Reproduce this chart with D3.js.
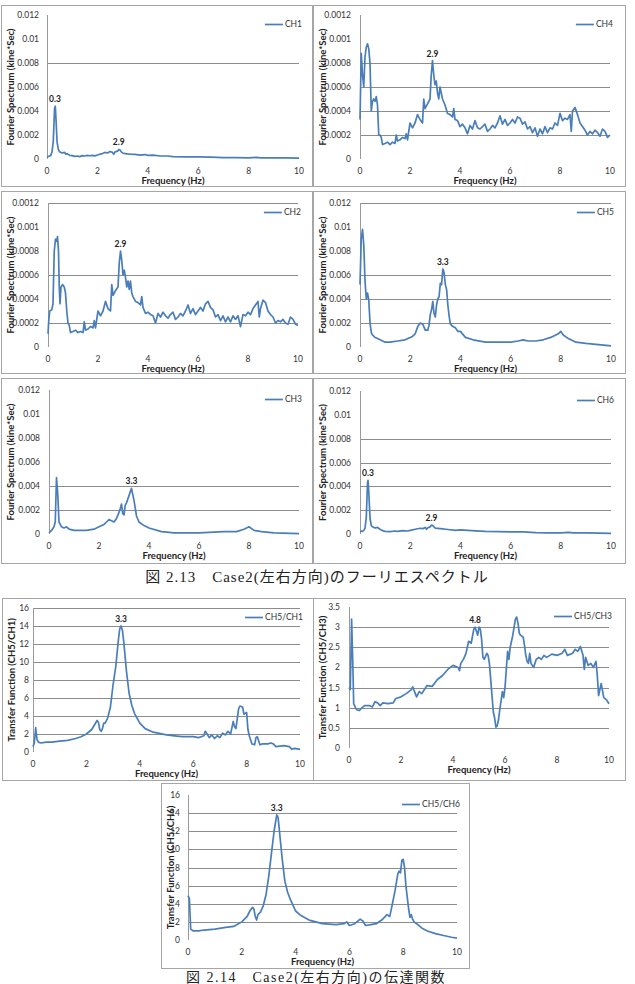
<!DOCTYPE html>
<html>
<head>
<meta charset="utf-8">
<script src="https://cdn.jsdelivr.net/npm/d3@7"></script>
<style>
body { margin: 0; background: #fff; }
svg text { font-family: Lato, "Open Sans", sans-serif; }
</style>
</head>
<body>
<svg id="fig" width="635" height="984"></svg>
<script>
// Fourier spectra, [frequency Hz, kine*sec]
const ch1 = [[0,0.00015],[0.05,0.0002],[0.1,0.00025],[0.15,0.0003],[0.2,0.0006],[0.25,0.0015],[0.3,0.0042],[0.33,0.0044],[0.36,0.0032],[0.4,0.0014],[0.45,0.0008],[0.5,0.0006],[0.6,0.0005],[0.7,0.00055],[0.75,0.0004],[0.8,0.00045],[0.9,0.0003],[1.0,0.00028],[1.1,0.00022],[1.2,0.00025],[1.3,0.0002],[1.4,0.00028],[1.5,0.00025],[1.6,0.0003],[1.7,0.00027],[1.8,0.0003],[1.9,0.00026],[2.0,0.00033],[2.1,0.0004],[2.2,0.00045],[2.3,0.00055],[2.4,0.0005],[2.5,0.00062],[2.6,0.00055],[2.65,0.0004],[2.7,0.0006],[2.8,0.00065],[2.85,0.0008],[2.9,0.00075],[2.95,0.0006],[3.0,0.0005],[3.1,0.00045],[3.2,0.00042],[3.3,0.0004],[3.5,0.00038],[3.7,0.00033],[3.9,0.00037],[4.0,0.0003],[4.2,0.00032],[4.5,0.00025],[4.8,0.00025],[5.0,0.0002],[5.5,0.00018],[6.0,0.00017],[6.5,0.00016],[7.0,0.00012],[7.5,0.00011],[8.0,0.0001],[8.3,0.00013],[8.5,0.0001],[9.0,0.0001],[9.5,0.00009],[10,0.00008]];

const ch4 = [[0,0.00033],[0.05,0.00088],[0.1,0.0007],[0.15,0.0006],[0.2,0.00085],[0.25,0.00093],[0.3,0.00096],[0.35,0.00092],[0.4,0.0008],[0.45,0.0004],[0.5,0.00048],[0.55,0.0005],[0.6,0.00048],[0.65,0.00052],[0.7,0.00045],[0.75,0.0002],[0.8,0.0002],[0.85,0.00018],[0.9,0.00012],[1.0,0.00013],[1.1,0.00014],[1.2,0.00012],[1.3,0.00014],[1.4,0.00013],[1.45,0.0002],[1.5,0.00015],[1.6,0.00016],[1.7,0.00018],[1.8,0.00017],[1.85,0.00021],[1.9,0.00016],[2.0,0.0003],[2.1,0.00026],[2.2,0.0003],[2.3,0.00037],[2.4,0.00033],[2.5,0.0003],[2.55,0.0005],[2.6,0.00042],[2.7,0.00046],[2.8,0.0005],[2.85,0.0007],[2.9,0.00082],[2.95,0.0007],[3.0,0.00062],[3.05,0.00065],[3.1,0.00055],[3.15,0.0005],[3.2,0.0006],[3.3,0.0005],[3.4,0.00045],[3.5,0.00038],[3.6,0.00037],[3.7,0.00035],[3.75,0.00042],[3.8,0.00033],[3.9,0.00032],[4.0,0.00027],[4.1,0.00029],[4.2,0.00026],[4.3,0.00021],[4.4,0.00028],[4.5,0.00025],[4.6,0.00032],[4.7,0.00026],[4.8,0.00025],[4.9,0.00027],[5.0,0.00029],[5.1,0.00023],[5.2,0.00025],[5.3,0.00028],[5.4,0.00026],[5.5,0.0003],[5.6,0.00036],[5.7,0.00029],[5.8,0.00033],[5.9,0.00028],[6.0,0.0003],[6.1,0.00033],[6.2,0.0003],[6.3,0.00035],[6.4,0.00034],[6.5,0.00029],[6.6,0.00031],[6.7,0.00025],[6.8,0.00027],[6.9,0.00022],[7.0,0.00026],[7.1,0.00019],[7.2,0.00025],[7.3,0.00021],[7.4,0.00027],[7.5,0.00022],[7.6,0.00026],[7.7,0.00025],[7.8,0.0003],[7.9,0.00028],[8.0,0.00038],[8.1,0.00032],[8.2,0.00034],[8.3,0.00033],[8.4,0.00037],[8.45,0.00023],[8.5,0.0004],[8.6,0.00043],[8.7,0.00037],[8.8,0.0003],[8.9,0.00027],[9.0,0.00024],[9.1,0.0002],[9.2,0.00023],[9.3,0.00021],[9.4,0.00024],[9.5,0.00022],[9.6,0.00019],[9.7,0.00025],[9.8,0.00023],[9.9,0.00018],[10,0.0002]];

const ch2 = [[0,0.00011],[0.03,0.00022],[0.07,0.0003],[0.15,0.00031],[0.2,0.00036],[0.25,0.0008],[0.3,0.0009],[0.35,0.00088],[0.38,0.00092],[0.42,0.0008],[0.45,0.0005],[0.48,0.00036],[0.52,0.0005],[0.58,0.00052],[0.65,0.0005],[0.7,0.00045],[0.75,0.0003],[0.8,0.0002],[0.85,0.00018],[0.9,0.00012],[1.0,0.00013],[1.1,0.00014],[1.2,0.00012],[1.3,0.00013],[1.4,0.00012],[1.45,0.00021],[1.5,0.00014],[1.6,0.00015],[1.7,0.00017],[1.8,0.00016],[1.85,0.00022],[1.9,0.00016],[2.0,0.0003],[2.1,0.00026],[2.2,0.0003],[2.3,0.00038],[2.4,0.00032],[2.5,0.0003],[2.55,0.00052],[2.6,0.00043],[2.7,0.00047],[2.8,0.0005],[2.85,0.0007],[2.9,0.0008],[2.95,0.00072],[3.0,0.0006],[3.05,0.00064],[3.1,0.00058],[3.15,0.0005],[3.2,0.00055],[3.25,0.00048],[3.3,0.00055],[3.35,0.00045],[3.4,0.00042],[3.5,0.00038],[3.6,0.00037],[3.7,0.00035],[3.75,0.00042],[3.8,0.00033],[3.9,0.00028],[4.0,0.00029],[4.1,0.00027],[4.2,0.00026],[4.3,0.0002],[4.4,0.00028],[4.5,0.00025],[4.6,0.00029],[4.7,0.00026],[4.8,0.00024],[4.9,0.00027],[5.0,0.00029],[5.1,0.00023],[5.2,0.00025],[5.3,0.00028],[5.4,0.00026],[5.5,0.0003],[5.6,0.00035],[5.7,0.00028],[5.8,0.00032],[5.9,0.00027],[6.0,0.0003],[6.1,0.00033],[6.2,0.0003],[6.3,0.00036],[6.4,0.00038],[6.5,0.00033],[6.6,0.00031],[6.7,0.00025],[6.8,0.00027],[6.9,0.00022],[7.0,0.00026],[7.1,0.00021],[7.2,0.00025],[7.3,0.00021],[7.4,0.00026],[7.5,0.00023],[7.6,0.00026],[7.7,0.00017],[7.8,0.00027],[7.9,0.00026],[8.0,0.00029],[8.1,0.00027],[8.2,0.00032],[8.3,0.00035],[8.4,0.00038],[8.45,0.00025],[8.5,0.00032],[8.6,0.00039],[8.7,0.00037],[8.8,0.0003],[8.9,0.00027],[9.0,0.00025],[9.1,0.0002],[9.2,0.00022],[9.3,0.00021],[9.4,0.00023],[9.5,0.0002],[9.6,0.00019],[9.7,0.00025],[9.8,0.00023],[9.9,0.00019],[10,0.00018]];

const ch5 = [[0,0.0052],[0.05,0.009],[0.1,0.0098],[0.15,0.0085],[0.2,0.0055],[0.25,0.004],[0.3,0.0045],[0.35,0.0039],[0.4,0.002],[0.45,0.0012],[0.5,0.001],[0.6,0.0008],[0.7,0.0007],[0.8,0.0006],[0.9,0.0005],[1.0,0.0004],[1.2,0.0004],[1.5,0.0005],[1.8,0.0006],[2.0,0.0008],[2.1,0.0009],[2.2,0.0011],[2.3,0.0017],[2.4,0.002],[2.5,0.0019],[2.6,0.0014],[2.7,0.0014],[2.75,0.0018],[2.8,0.0027],[2.85,0.0031],[2.9,0.0038],[2.95,0.0028],[3.0,0.0025],[3.05,0.0035],[3.1,0.004],[3.15,0.0042],[3.2,0.0053],[3.25,0.0052],[3.3,0.0065],[3.35,0.0062],[3.4,0.0052],[3.45,0.0048],[3.5,0.0035],[3.55,0.0026],[3.6,0.0019],[3.7,0.0017],[3.8,0.0016],[3.9,0.0013],[4.0,0.0013],[4.2,0.0008],[4.5,0.0006],[5.0,0.0004],[5.5,0.0004],[6.0,0.0004],[6.3,0.0005],[6.5,0.0006],[6.7,0.0005],[7.0,0.0005],[7.3,0.0006],[7.6,0.0008],[7.8,0.001],[7.9,0.0011],[8.0,0.0013],[8.1,0.001],[8.3,0.0007],[8.6,0.0004],[9.0,0.0003],[9.5,0.0002],[10,0.0001]];

const ch3 = [[0,0.0001],[0.1,0.0003],[0.2,0.0006],[0.25,0.001],[0.3,0.0047],[0.35,0.0033],[0.4,0.001],[0.5,0.0006],[0.6,0.0005],[0.7,0.0006],[0.8,0.0004],[1.0,0.0003],[1.5,0.0003],[1.8,0.0004],[2.0,0.0006],[2.2,0.0008],[2.3,0.001],[2.4,0.0012],[2.5,0.0011],[2.6,0.001],[2.7,0.0013],[2.8,0.0018],[2.85,0.0021],[2.9,0.0025],[2.95,0.0017],[3.0,0.0016],[3.05,0.0024],[3.1,0.0026],[3.2,0.0032],[3.3,0.0038],[3.35,0.0033],[3.4,0.0028],[3.5,0.0015],[3.6,0.001],[3.8,0.0007],[4.0,0.0005],[4.5,0.0002],[5.0,0.0001],[6.0,0.0001],[7.0,0.0002],[7.5,0.0002],[7.8,0.0004],[8.0,0.0006],[8.2,0.0003],[8.5,0.0002],[9.0,0.0001],[10,0.00003]];

const ch6 = [[0,0.0002],[0.05,0.00025],[0.1,0.00022],[0.15,0.0003],[0.2,0.0005],[0.25,0.0014],[0.3,0.0043],[0.32,0.0045],[0.35,0.0035],[0.4,0.0013],[0.45,0.0007],[0.5,0.0006],[0.6,0.0005],[0.7,0.00055],[0.8,0.0004],[0.9,0.00028],[1.0,0.00022],[1.2,0.0002],[1.4,0.00025],[1.5,0.00022],[1.7,0.00028],[1.9,0.00025],[2.0,0.0003],[2.2,0.0004],[2.4,0.00048],[2.5,0.00045],[2.6,0.00055],[2.65,0.0004],[2.7,0.00052],[2.8,0.0006],[2.85,0.00075],[2.9,0.0007],[3.0,0.0005],[3.2,0.00045],[3.5,0.00038],[3.8,0.0003],[4.0,0.00035],[4.3,0.0003],[4.6,0.00026],[5.0,0.00022],[5.5,0.0002],[6.0,0.00018],[6.5,0.00017],[7.0,0.00012],[7.5,0.0001],[8.0,0.0001],[8.3,0.00014],[8.5,0.0001],[9.0,0.0001],[9.5,0.00007],[10,0.00005]];

// Transfer functions
const ch5ch1 = [[0,0.6],[0.05,1.0],[0.1,2.7],[0.15,1.4],[0.2,1.1],[0.3,1.0],[0.5,1.1],[0.7,1.1],[1.0,1.2],[1.3,1.3],[1.6,1.5],[1.8,1.7],[2.0,2.0],[2.2,2.5],[2.3,3.0],[2.4,3.5],[2.45,3.3],[2.5,2.5],[2.55,2.3],[2.6,2.6],[2.65,3.2],[2.7,3.2],[2.8,3.8],[2.9,5.0],[3.0,7.5],[3.1,9.5],[3.2,12.5],[3.25,13.7],[3.3,14.0],[3.35,13.5],[3.4,12.2],[3.5,9.0],[3.6,6.5],[3.7,5.2],[3.8,4.3],[4.0,3.2],[4.2,2.6],[4.5,2.2],[5.0,1.9],[5.3,1.8],[5.6,1.7],[6.0,1.7],[6.2,1.6],[6.3,1.7],[6.4,1.8],[6.45,2.3],[6.5,2.1],[6.6,1.6],[6.7,1.9],[6.8,1.5],[6.9,1.8],[7.0,1.6],[7.1,2.1],[7.2,1.9],[7.3,2.3],[7.4,2.0],[7.5,3.4],[7.55,2.8],[7.6,2.6],[7.7,4.8],[7.75,5.1],[7.85,5.0],[7.9,4.2],[8.0,4.4],[8.05,2.5],[8.1,1.8],[8.2,0.9],[8.3,0.8],[8.35,1.6],[8.4,1.7],[8.5,0.8],[8.6,0.9],[8.8,0.9],[8.9,1.0],[9.0,0.9],[9.1,0.6],[9.4,0.7],[9.6,0.6],[9.7,0.3],[9.8,0.4],[10,0.3]];

const ch5ch3 = [[0,1.5],[0.05,1.45],[0.1,3.2],[0.15,2.0],[0.18,1.1],[0.25,1.0],[0.3,0.95],[0.4,0.93],[0.5,1.0],[0.6,1.05],[0.8,1.05],[0.9,1.02],[1.0,1.15],[1.1,1.12],[1.2,1.05],[1.3,1.12],[1.5,1.1],[1.7,1.12],[1.8,1.23],[2.0,1.27],[2.2,1.35],[2.4,1.45],[2.45,1.52],[2.55,1.35],[2.6,1.27],[2.7,1.4],[2.8,1.35],[3.0,1.55],[3.2,1.53],[3.4,1.7],[3.6,1.8],[3.8,1.95],[4.0,2.05],[4.2,2.0],[4.25,1.92],[4.3,2.1],[4.4,2.2],[4.5,2.35],[4.6,2.65],[4.7,2.6],[4.8,2.95],[4.85,3.0],[4.9,2.9],[4.95,2.8],[5.0,3.0],[5.05,2.95],[5.1,2.7],[5.15,2.25],[5.2,2.2],[5.3,2.35],[5.35,2.3],[5.4,2.1],[5.5,1.3],[5.55,0.9],[5.6,0.75],[5.65,0.52],[5.7,0.55],[5.75,0.7],[5.8,0.95],[5.9,1.4],[5.95,1.25],[6.0,1.5],[6.1,2.4],[6.15,2.2],[6.2,2.5],[6.3,2.8],[6.4,3.2],[6.45,3.25],[6.5,3.1],[6.55,2.85],[6.6,2.8],[6.7,2.75],[6.75,2.55],[6.8,2.3],[6.85,2.15],[6.9,2.1],[6.95,2.35],[7.0,2.1],[7.1,2.0],[7.2,2.2],[7.3,2.25],[7.4,2.2],[7.5,2.3],[7.6,2.25],[7.8,2.33],[8.0,2.3],[8.2,2.35],[8.3,2.45],[8.4,2.3],[8.6,2.35],[8.7,2.45],[8.8,2.4],[8.9,2.52],[9.0,2.3],[9.05,1.95],[9.1,2.25],[9.2,2.05],[9.3,2.1],[9.4,2.0],[9.5,2.15],[9.55,1.8],[9.6,1.3],[9.7,1.6],[9.8,1.25],[9.9,1.2],[10,1.1]];

const ch5ch6 = [[0,4.9],[0.05,4.6],[0.1,1.2],[0.2,1.0],[0.4,1.0],[0.6,1.1],[1.0,1.2],[1.4,1.4],[1.7,1.5],[2.0,2.0],[2.2,2.6],[2.3,3.2],[2.4,3.6],[2.45,3.4],[2.5,2.6],[2.55,2.2],[2.6,2.8],[2.7,3.1],[2.8,3.8],[2.9,5.0],[3.0,7.0],[3.1,9.5],[3.2,12.0],[3.3,13.8],[3.35,13.5],[3.4,12.0],[3.5,9.0],[3.6,6.5],[3.7,5.3],[3.8,4.5],[4.0,3.2],[4.2,2.7],[4.5,2.2],[5.0,1.8],[5.5,1.7],[5.8,1.8],[5.9,2.0],[6.0,1.6],[6.2,1.8],[6.4,2.3],[6.5,2.1],[6.6,1.6],[6.8,1.7],[7.0,1.8],[7.2,2.2],[7.4,2.8],[7.5,2.6],[7.6,4.0],[7.7,5.5],[7.8,7.3],[7.85,7.6],[7.9,7.4],[7.95,8.8],[8.0,8.9],[8.05,8.0],[8.1,6.0],[8.2,3.5],[8.25,2.5],[8.3,2.8],[8.35,2.3],[8.4,2.0],[8.5,1.8],[8.7,1.3],[8.9,1.0],[9.2,0.7],[9.5,0.5],[9.8,0.3],[10,0.2]];

// Peak labels: [frequency, value, text]
const ch1Peaks = [[0.32, 0.0044, "0.3"], [2.85, 0.0008, "2.9"]];
const ch4Peaks = [[2.9, 0.00082, "2.9"]];
const ch2Peaks = [[2.9, 0.0008, "2.9"]];
const ch5Peaks = [[3.3, 0.0065, "3.3"]];
const ch3Peaks = [[3.3, 0.0038, "3.3"]];
const ch6Peaks = [[0.32, 0.0045, "0.3"], [2.85, 0.00075, "2.9"]];
const tf1Peaks = [[3.3, 14.0, "3.3"]];
const tf2Peaks = [[4.85, 3.0, "4.8"]];
const tf3Peaks = [[3.3, 13.8, "3.3"]];

const xTicks = [0, 2, 4, 6, 8, 10];
const fourierTitle = "Fourier Spectrum (kine*Sec)";

const panels = [
  {name: "CH1", data: ch1, peaks: ch1Peaks, box: [1, 5, 311, 181], plot: [47, 299, 159, 15], yMax: 0.012, yStep: 0.002, grid: [0.008], yTitle: fourierTitle, gap: 8},
  {name: "CH4", data: ch4, peaks: ch4Peaks, box: [313, 5, 312, 181], plot: [360, 610, 159, 15], yMax: 0.0012, yStep: 0.0002, grid: [0.0008, 0.0006, 0.0004, 0.0002], yTitle: fourierTitle, gap: 9},
  {name: "CH2", data: ch2, peaks: ch2Peaks, box: [1, 191, 311, 182], plot: [48, 298, 347, 203], yMax: 0.0012, yStep: 0.0002, grid: [0.0012, 0.0006, 0.0002], yTitle: fourierTitle, gap: 9},
  {name: "CH5", data: ch5, peaks: ch5Peaks, box: [313, 191, 312, 182], plot: [360, 611, 347, 203], yMax: 0.012, yStep: 0.002, grid: [0.012, 0.006, 0.004, 0.002], yTitle: fourierTitle, gap: 9},
  {name: "CH3", data: ch3, peaks: ch3Peaks, box: [1, 378, 311, 185], plot: [49, 299, 534, 390], yMax: 0.012, yStep: 0.002, grid: [0.004, 0.002], yTitle: fourierTitle, gap: 9},
  {name: "CH6", data: ch6, peaks: ch6Peaks, box: [313, 378, 312, 185], plot: [360, 611, 534, 391], yMax: 0.012, yStep: 0.002, grid: [0.008, 0.006, 0.004, 0.002], yTitle: fourierTitle, gap: 9},
  {name: "CH5/CH1", data: ch5ch1, peaks: tf1Peaks, box: [2, 598, 311, 182], plot: [33, 300, 752, 608], yMax: 16, yStep: 2, grid: [2, 4, 6, 8, 10, 12, 14, 16], yTitle: "Transfer Function (CH5/CH1)", gap: 4},
  {name: "CH5/CH3", data: ch5ch3, peaks: tf2Peaks, box: [313, 598, 312, 182], plot: [349, 609, 748, 607], yMax: 3.5, yStep: 0.5, grid: [0.5, 1, 1.5, 2, 2.5, 3], yTitle: "Transfer Function (CH5/CH3)", gap: 9},
  {name: "CH5/CH6", data: ch5ch6, peaks: tf3Peaks, box: [161, 783, 308, 185], plot: [188, 457, 940, 795], yMax: 16, yStep: 2, grid: [2, 4, 6, 8, 10, 12, 14], yTitle: "Transfer Function (CH5/CH6)", gap: 8}
];

const svg = d3.select("#fig");
const lineColor = "#4a7ebb";
const fmt = d3.format("~g");

panels.forEach(p => {
  const [bx, by, bw, bh] = p.box;
  const [px0, px1, py0, py1] = p.plot;

  svg.append("rect")
    .attr("x", bx + 0.5).attr("y", by + 0.5)
    .attr("width", bw).attr("height", bh)
    .attr("fill", "#fff").attr("stroke", "#a6a6a6");

  const x = d3.scaleLinear().domain([0, 10]).range([px0, px1]);
  const y = d3.scaleLinear().domain([0, p.yMax]).range([py0, py1]);
  const g = svg.append("g");

  // gridlines that survive in the scan
  g.selectAll(".grid").data(p.grid).join("line")
    .attr("x1", px0).attr("x2", px1)
    .attr("y1", d => Math.round(y(d)) + 0.5).attr("y2", d => Math.round(y(d)) + 0.5)
    .attr("stroke", "#8c8c8c").attr("stroke-width", 1);

  g.append("line")
    .attr("x1", px0 + 0.5).attr("x2", px0 + 0.5)
    .attr("y1", py1).attr("y2", py0)
    .attr("stroke", "#9a9a9a");

  const yTicks = d3.range(0, p.yMax + p.yStep / 2, p.yStep);
  g.selectAll(".yt").data(yTicks).join("text")
    .attr("x", px0 - p.gap).attr("y", d => y(d) + 3)
    .attr("text-anchor", "end").attr("font-size", 8.5).attr("fill", "#333")
    .text(d => fmt(+d.toFixed(6)));

  g.selectAll(".xt").data(xTicks).join("text")
    .attr("x", d => x(d)).attr("y", py0 + 15)
    .attr("text-anchor", "middle").attr("font-size", 8.5).attr("fill", "#333")
    .text(d => d);

  g.append("text")
    .attr("x", (px0 + px1) / 2).attr("y", py0 + 25)
    .attr("text-anchor", "middle").attr("font-size", 9.5).attr("font-weight", "bold").attr("fill", "#222")
    .text("Frequency (Hz)");

  g.append("text")
    .attr("transform", `translate(${bx + 13},${(py0 + py1) / 2}) rotate(-90)`)
    .attr("text-anchor", "middle").attr("font-size", 9.5).attr("font-weight", "bold").attr("fill", "#222")
    .text(p.yTitle);

  const line = d3.line().x(d => x(d[0])).y(d => y(d[1]));
  g.append("path").datum(p.data)
    .attr("d", line).attr("fill", "none")
    .attr("stroke", lineColor).attr("stroke-width", 1.7).attr("stroke-linejoin", "round");

  g.selectAll(".pk").data(p.peaks).join("text")
    .attr("x", d => x(d[0])).attr("y", d => y(d[1]) - 4)
    .attr("text-anchor", "middle").attr("font-size", 8.5).attr("font-weight", "bold").attr("fill", "#222")
    .text(d => d[2]);

  // legend
  const lt = g.append("text")
    .attr("x", px1 + 3).attr("y", py1 + 12)
    .attr("text-anchor", "end").attr("font-size", 8.5).attr("fill", "#333")
    .text(p.name);
  const tw = lt.node().getComputedTextLength();
  g.append("line")
    .attr("x1", px1 + 1 - tw - 18).attr("x2", px1 + 1 - tw)
    .attr("y1", py1 + 9.5).attr("y2", py1 + 9.5)
    .attr("stroke", lineColor).attr("stroke-width", 1.7);
});

const capFont = '"Liberation Serif", "Noto Sans CJK JP", serif';
svg.append("text")
  .attr("x", 317).attr("y", 582)
  .attr("text-anchor", "middle").attr("font-size", 15).attr("fill", "#222")
  .attr("letter-spacing", 1)
  .style("font-family", capFont)
  .text("図 2.13　Case2(左右方向)のフーリエスペクトル");

svg.append("text")
  .attr("x", 316).attr("y", 982)
  .attr("text-anchor", "middle").attr("font-size", 14).attr("fill", "#222")
  .attr("letter-spacing", 1.5)
  .style("font-family", capFont)
  .text("図 2.14　Case2(左右方向)の伝達関数");
</script>
</body>
</html>
